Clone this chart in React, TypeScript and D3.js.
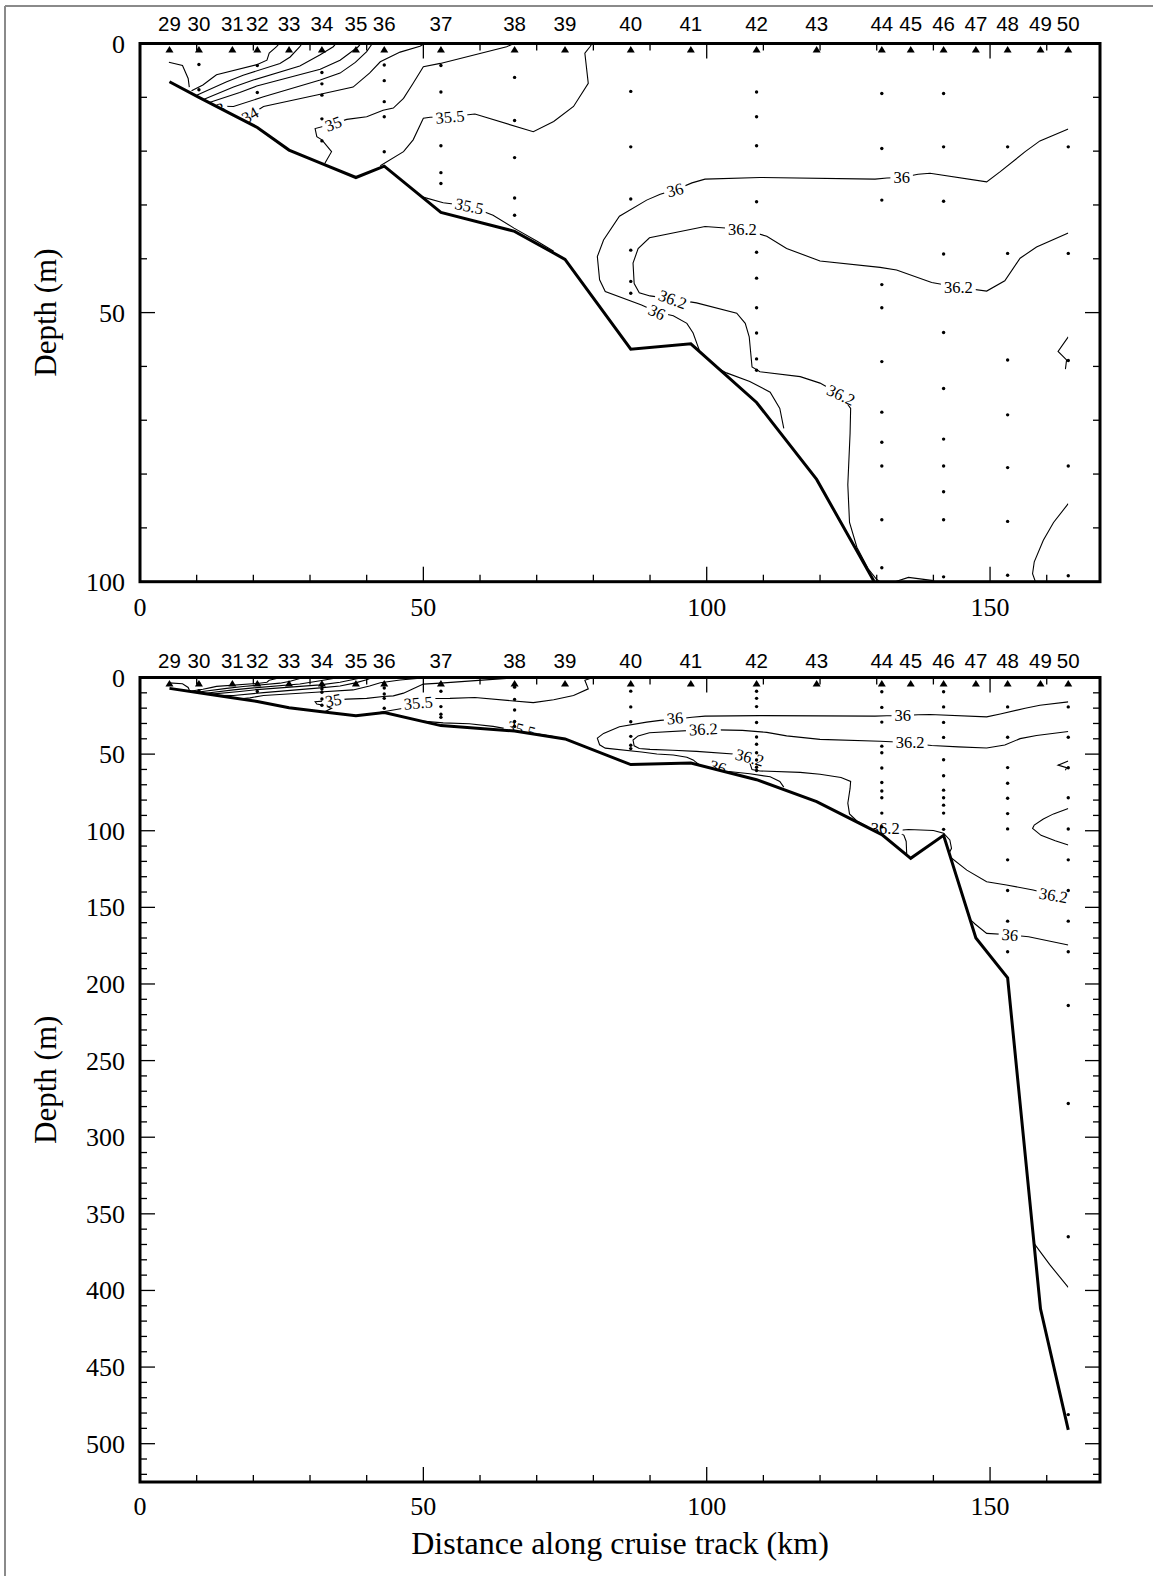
import React from 'react';
import * as d3 from 'd3';

type Pt = [number, number];
type Label = { t: string; km: number; d: number; rot: number };

// stations along the track
const stationNames = ['29', '30', '31', '32', '33', '34', '35', '36', '37', '38', '39', '40', '41', '42', '43', '44', '45', '46', '47', '48', '49', '50'];
const stationKm = [5.2, 10.4, 16.3, 20.7, 26.3, 32.1, 38.1, 43.1, 53.1, 66.1, 75.0, 86.6, 97.2, 108.8, 119.4, 130.9, 136.0, 141.8, 147.5, 153.1, 158.9, 163.8];
const bottomDepth = [7.1, 10, 13.2, 15.6, 19.8, 22.3, 24.9, 22.8, 31.4, 34.9, 40.1, 56.8, 55.8, 66.7, 81, 102.5, 118, 103, 170, 196, 412, 491];

// bottle depths (m) for each station
const sampleDepths: number[][] = [
  [], [3.9, 8.6], [], [4.1, 9.1], [], [5.4, 7.5, 9.6, 14, 18.1], [], [4, 6.9, 10.8, 13.6, 20.1],
  [4.1, 9, 19, 24, 26], [6.3, 14.3, 21.2, 28.7, 31.9], [], [8.9, 19.2, 28.9, 38.4, 44.2, 46.4], [],
  [9, 13.6, 19, 29.4, 38.8, 43.6, 49.1, 53.8, 58.6, 60.7], [],
  [9.3, 19.5, 29.1, 44.8, 49.1, 59.1, 68.5, 74.1, 78.5, 88.5, 97.4], [],
  [9.3, 19.2, 29.3, 39.1, 53.7, 64.1, 73.5, 78.5, 83.3, 88.5, 99.1], [],
  [19.2, 39, 58.8, 69, 78.8, 88.8, 98.8, 119, 139, 159, 179], [],
  [19.2, 39, 58.9, 78.5, 98.9, 119, 139, 159, 179, 214, 278, 365, 481],
];

// salinity contours, [km, depth]
const c33: Pt[] = [[5.1, 3.5], [7.5, 4.1], [8.5, 6.5], [8.7, 8.1]];
const fanA: Pt[] = [[9.1, 8.8], [11.1, 7.7], [12.5, 6.6], [13.5, 5.8], [20.7, 3.9], [22.4, 3.1], [22.8, 1.8], [24.1, 0.6], [24.6, 0]];
const fanB: Pt[] = [[10, 9.6], [15.3, 7.1], [18.2, 5.9], [24.7, 3.7], [26.5, 2.5], [28.2, 0.6], [28.6, 0]];
const fanC: Pt[] = [[11.2, 10.4], [16.5, 8.1], [20, 6.8], [28.2, 4.2], [31.8, 2.1], [34.1, 0.6], [34.6, 0]];
const fanD: Pt[] = [[12.1, 11], [17.6, 9.1], [20.6, 7.9], [31.8, 4.8], [35.3, 3.1], [38.5, 0.6], [39, 0]];
const fanE: Pt[] = [[12.5, 11.6], [16.5, 11.7], [21.8, 9.9], [31.8, 6.8], [35.3, 5.5], [38, 3.5], [40, 1.5], [41, 0]];
const c34: Pt[] = [[17, 14.2], [19.4, 13.3], [21.8, 11.7], [31, 9.6], [37.6, 8.1], [40.5, 5.5], [42.4, 3.4], [45.9, 1.6], [49.4, 0.5], [50.3, 0]];
const c35: Pt[] = [[32.6, 22.3], [33.8, 20.1], [32.1, 17.9], [31.2, 17.3], [30.9, 15.8], [34.1, 14.9], [36.5, 14.1], [40, 13.6], [42.9, 12.4], [44.7, 12], [46.5, 10.2], [48.2, 7.4], [50, 4.3], [53, 3.7], [64.7, 0.6], [66, 0]];
const c355a: Pt[] = [[42.4, 22.7], [46.5, 20.1], [48.2, 17.9], [50, 13.9], [51.2, 13.7], [54.7, 13.6], [59.1, 13.1], [69.4, 16.4], [73, 14.5], [76.5, 11.7], [79.1, 7.4], [78.5, 1.8], [79.4, 0.6], [79.8, 0]];
const c355b: Pt[] = [[49.8, 28.5], [53.5, 29.6], [58.1, 30.2], [62.3, 31.9], [66, 34.3], [70, 36.7], [73, 38.6]];
const c36: Pt[] = [[163.8, 15.9], [158.8, 18.1], [156.2, 20.1], [151.8, 23.8], [149.4, 25.7], [139.4, 24.1], [137.3, 24.3], [134.4, 24.9], [131.8, 25], [129.7, 25.2], [109.4, 24.9], [99.7, 25.2], [97.4, 25.9], [94.4, 27.2], [91.8, 28], [89.4, 29.1], [84.6, 32.1], [81.8, 36.5], [80.7, 39.6], [81.1, 43.9], [82.1, 46.1], [88.5, 48.6], [91.2, 49.9], [94.1, 50.6], [96.5, 52], [97.6, 53.8], [98.8, 57.3]];
const c36b: Pt[] = [[101, 59.8], [103.5, 61.2], [107.6, 62.8], [111.2, 64.8], [112.9, 67.8], [113.6, 71.5]];
const c362: Pt[] = [[163.8, 35.2], [158.2, 37.8], [155.3, 39.9], [152.6, 44.1], [149.4, 46], [144.4, 45.3], [139.7, 44.4], [133.5, 42.1], [130.6, 41.6], [120, 40.4], [114.1, 38.1], [110.6, 35.8], [106.3, 34.5], [99.7, 34], [89.9, 36.1], [87.9, 38.1], [87, 40.8], [87.2, 44.6], [88.1, 46.3], [90, 46.9], [94, 47.5], [98.2, 48.2], [105.3, 50.1], [106.8, 52], [107.5, 54.5], [108, 60.1], [109.4, 61], [116.5, 61.9], [120, 63.1], [123.7, 65.3], [125.4, 67.8], [125.3, 72.4], [124.9, 82], [125.2, 89], [126.5, 93.6], [128.5, 97.6], [130, 99.6], [131.5, 100.6], [135.6, 99.2], [140, 99.8], [141.8, 101.6], [142.9, 106], [143.2, 111.5], [142.8, 114.4]];
const c36v: Pt[] = [[133.8, 100.6], [134.8, 103], [135.2, 107], [135.3, 116]];
const c362deep: Pt[] = [[142.9, 117], [145.9, 125.7], [149.4, 133.3], [152.9, 135.4], [157.6, 138.7], [161.2, 142.1], [163.8, 145]];
const c36deep: Pt[] = [[146.5, 158], [147.4, 161], [149.4, 167], [153.5, 167.9], [156.8, 169.2], [163.8, 174.6]];
const c36nose: Pt[] = [[163.8, 85.5], [161.2, 89], [159.4, 92.3], [157.8, 96.3], [157.5, 98.5], [159, 103], [161.5, 106.5], [163.8, 109.3]];
const c36zig: Pt[] = [[163.8, 54.5], [162, 57.2], [163.5, 58.8], [163.3, 60.5]];
const cDeep: Pt[] = [[154.5, 350], [157.5, 368], [160.5, 383], [163.8, 398]];

const contourLines = [c33, fanA, fanB, fanC, fanD, fanE, c34, c35, c355a, c355b, c36, c36b, c362, c36v, c362deep, c36deep, c36nose, c36zig, cDeep];

const topLabels: Label[] = [
  { t: '3', km: 14.2, d: 12.1, rot: -25 },
  { t: '34', km: 19.4, d: 13.3, rot: -30 },
  { t: '35', km: 34.1, d: 14.9, rot: -20 },
  { t: '35.5', km: 54.7, d: 13.6, rot: -5 },
  { t: '35.5', km: 58.1, d: 30.2, rot: 12 },
  { t: '36', km: 94.4, d: 27.2, rot: -15 },
  { t: '36', km: 134.4, d: 24.9, rot: 0 },
  { t: '36.2', km: 106.3, d: 34.5, rot: 0 },
  { t: '36.2', km: 94, d: 47.5, rot: 20 },
  { t: '36', km: 91.2, d: 49.9, rot: 25 },
  { t: '36.2', km: 144.4, d: 45.3, rot: 0 },
  { t: '36.2', km: 123.7, d: 65.3, rot: 25 },
];

const bottomLabels: Label[] = [
  { t: '35', km: 34.1, d: 14.8, rot: -10 },
  { t: '35.5', km: 49.1, d: 16.5, rot: -5 },
  { t: '35.5', km: 67.3, d: 33.8, rot: 15 },
  { t: '36', km: 94.4, d: 26.4, rot: -5 },
  { t: '36.2', km: 99.4, d: 33.6, rot: -3 },
  { t: '36.2', km: 107.6, d: 52.1, rot: 15 },
  { t: '36', km: 102, d: 58.4, rot: 15 },
  { t: '36', km: 134.6, d: 24.5, rot: 0 },
  { t: '36.2', km: 135.9, d: 42.5, rot: 0 },
  { t: '36.2', km: 131.5, d: 98.4, rot: 0 },
  { t: '36.2', km: 161.2, d: 142.1, rot: 10 },
  { t: '36', km: 153.5, d: 167.9, rot: 5 },
];

const xTickLabels = [0, 50, 100, 150];
const topDepthLabels = [0, 50, 100];
const bottomDepthLabels = [0, 50, 100, 150, 200, 250, 300, 350, 400, 450, 500];

const SERIF = '"Liberation Serif", "Times New Roman", Times, serif';
const SANS = '"Liberation Sans", Arial, Helvetica, sans-serif';
const LABEL_FS = 16.5;

const x = d3.scaleLinear().domain([0, 169.4]).range([140, 1100]);

function labelWidth(t: string) {
  let w = 0;
  for (const c of t) w += c === '.' ? 0.25 : 0.5;
  return w * LABEL_FS;
}

type PanelProps = {
  id: string;
  yTop: number;
  yBottom: number;
  depthMax: number;
  depthLabels: number[];
  labels: Label[];
  stationY: number;
  xLabelY: number;
};

function Panel({ id, yTop, yBottom, depthMax, depthLabels, labels, stationY, xLabelY }: PanelProps) {
  const y = d3.scaleLinear().domain([0, depthMax]).range([yTop, yBottom]);
  const line = d3.line<Pt>().x(d => x(d[0])).y(d => y(d[1]));
  const bathy: Pt[] = stationKm.map((k, i) => [k, bottomDepth[i]] as Pt);
  const last = stationKm[stationKm.length - 1];
  const water = [[x(4), yTop - 3], [x(4), y(6.5)], ...bathy.map(p => [x(p[0]), y(p[1])]), [x(last), yTop - 3]]
    .map(p => p.join(',')).join(' ');
  const x0 = x.range()[0], x1 = x.range()[1];
  const xTicks = d3.range(0, 169, 10);
  const yTicks = d3.range(0, depthMax + 0.01, 10);

  return (
    <g>
      <defs>
        <clipPath id={`${id}-box`}>
          <rect x={x0} y={yTop} width={x1 - x0} height={yBottom - yTop} />
        </clipPath>
        <clipPath id={`${id}-water`}>
          <polygon points={water} />
        </clipPath>
      </defs>
      <g clipPath={`url(#${id}-box)`}>
        <g clipPath={`url(#${id}-water)`}>
          {contourLines.map((c, i) => (
            <path key={i} d={line(c) || ''} fill="none" stroke="#000" strokeWidth={1.1} />
          ))}
          {labels.map((l, i) => {
            const w = labelWidth(l.t);
            return (
              <g key={i} transform={`translate(${x(l.km)},${y(l.d)}) rotate(${l.rot})`}>
                <rect x={-w / 2 - 3} y={-6} width={w + 6} height={12} fill="#fff" />
                <text textAnchor="middle" dy="0.35em" fontFamily={SERIF} fontSize={LABEL_FS} fill="#000">{l.t}</text>
              </g>
            );
          })}
        </g>
        {sampleDepths.map((ds, i) => ds.map((d, j) => (
          <circle key={`${i}-${j}`} cx={x(stationKm[i])} cy={y(d)} r={1.7} fill="#000" />
        )))}
        <path d={line(bathy) || ''} fill="none" stroke="#000" strokeWidth={3} strokeLinejoin="miter" />
        {stationKm.map((k, i) => (
          <path key={i} d={`M${x(k) - 4},${yTop + 9}L${x(k) + 4},${yTop + 9}L${x(k)},${yTop + 2.5}Z`} fill="#000" />
        ))}
      </g>
      {xTicks.map(t => {
        const len = t % 50 === 0 ? 15 : 7;
        return (
          <g key={`x${t}`} stroke="#000" strokeWidth={1.3}>
            <line x1={x(t)} x2={x(t)} y1={yBottom} y2={yBottom - len} />
            <line x1={x(t)} x2={x(t)} y1={yTop} y2={yTop + len} />
          </g>
        );
      })}
      {yTicks.map(t => {
        const len = t % 50 === 0 ? 15 : 7;
        return (
          <g key={`y${t}`} stroke="#000" strokeWidth={1.3}>
            <line x1={x0} x2={x0 + len} y1={y(t)} y2={y(t)} />
            <line x1={x1} x2={x1 - len} y1={y(t)} y2={y(t)} />
          </g>
        );
      })}
      <rect x={x0} y={yTop} width={x1 - x0} height={yBottom - yTop} fill="none" stroke="#000" strokeWidth={3} />
      {xTickLabels.map(t => (
        <text key={`xl${t}`} x={x(t)} y={xLabelY} textAnchor="middle" fontFamily={SERIF} fontSize={26}>{t}</text>
      ))}
      {depthLabels.map(t => (
        <text key={`yl${t}`} x={125} y={y(t) + 9} textAnchor="end" fontFamily={SERIF} fontSize={26}>{t}</text>
      ))}
      {stationNames.map((s, i) => (
        <text key={`s${s}`} x={x(stationKm[i])} y={stationY} textAnchor="middle" fontFamily={SANS} fontSize={20.5}>{s}</text>
      ))}
      <text transform={`translate(56,${(yTop + yBottom) / 2}) rotate(-90)`} textAnchor="middle" fontFamily={SERIF} fontSize={31}>Depth (m)</text>
    </g>
  );
}

export default function App() {
  return (
    <svg width={1153} height={1576} style={{ position: 'absolute', left: 0, top: 0, background: '#fff' }}>
      <rect x={0} y={0} width={1153} height={1576} fill="#fff" />
      <line x1={5} x2={1153} y1={6} y2={6} stroke="#8a8a8a" strokeWidth={2} />
      <line x1={5} x2={5} y1={6} y2={1576} stroke="#8a8a8a" strokeWidth={2} />
      <Panel id="top" yTop={43.5} yBottom={581.7} depthMax={100} depthLabels={topDepthLabels} labels={topLabels} stationY={31} xLabelY={616} />
      <Panel id="bot" yTop={677.5} yBottom={1482} depthMax={525} depthLabels={bottomDepthLabels} labels={bottomLabels} stationY={668} xLabelY={1515} />
      <text x={620} y={1554} textAnchor="middle" fontFamily={SERIF} fontSize={32}>Distance along cruise track (km)</text>
    </svg>
  );
}
